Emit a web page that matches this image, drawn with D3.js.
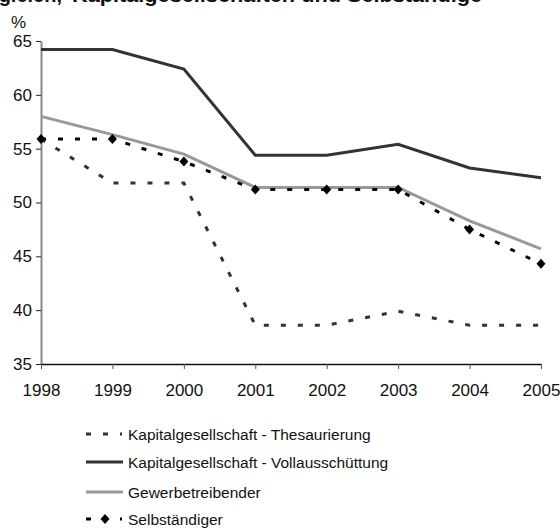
<!DOCTYPE html>
<html>
<head>
<meta charset="utf-8">
<script src="https://cdn.jsdelivr.net/npm/d3@7"></script>
<style>
  body { margin: 0; background: #fff; }
  svg { font-family: "Liberation Sans", Arial, sans-serif; }
</style>
</head>
<body>
<div id="chart"></div>
<script>
// data
const years = [1998, 1999, 2000, 2001, 2002, 2003, 2004, 2005];
const thesaurierung = [55.9, 51.8, 51.8, 38.6, 38.6, 39.9, 38.6, 38.6];
const vollausschuettung = [64.2, 64.2, 62.4, 54.4, 54.4, 55.4, 53.2, 52.3];
const gewerbe = [58.0, 56.3, 54.5, 51.4, 51.4, 51.4, 48.3, 45.7];
const selbstaendig = [55.9, 55.9, 53.8, 51.2, 51.2, 51.2, 47.5, 44.3];
const yTicks = [35, 40, 45, 50, 55, 60, 65];

const series = [
  {name: "Kapitalgesellschaft - Thesaurierung", values: thesaurierung, color: "#333", dash: "5,12", width: 3},
  {name: "Kapitalgesellschaft - Vollausschüttung", values: vollausschuettung, color: "#333", dash: null, width: 3},
  {name: "Gewerbetreibender", values: gewerbe, color: "#999", dash: null, width: 3},
  {name: "Selbständiger", values: selbstaendig, color: "#000", dash: "5,12", width: 3, marker: true}
];

const width = 560, height = 530;
const margin = {top: 41, right: 19, bottom: 166, left: 41};

const svg = d3.select("#chart").append("svg")
  .attr("width", width)
  .attr("height", height);

// title, only its lower edge shows at the top of the picture
const title = svg.append("text")
  .attr("y", 2)
  .style("font-size", "20px")
  .style("font-weight", "bold")
  .attr("fill", "#111");
title.append("tspan")
  .attr("x", 62)
  .attr("text-anchor", "end")
  .text("Vergleich,");
title.append("tspan")
  .attr("x", 72)
  .attr("text-anchor", "start")
  .attr("textLength", 410)
  .attr("lengthAdjust", "spacingAndGlyphs")
  .text("Kapitalgesellschaften und Selbständige");

const x = d3.scaleLinear()
  .domain([1998, 2005])
  .range([margin.left, width - margin.right]);

const y = d3.scaleLinear()
  .domain([35, 65])
  .range([height - margin.bottom, margin.top]);

// y axis
const yAxis = svg.append("g")
  .attr("transform", `translate(${margin.left},0)`)
  .call(d3.axisLeft(y).tickValues(yTicks).tickSize(5).tickSizeOuter(0));
yAxis.select(".domain").attr("stroke", "#888").attr("stroke-width", 2);
yAxis.selectAll(".tick line").attr("stroke", "#222");
yAxis.selectAll(".tick text")
  .attr("x", -9)
  .style("font-size", "17px")
  .attr("fill", "#111");

// x axis
const xAxis = svg.append("g")
  .attr("transform", `translate(0,${height - margin.bottom})`)
  .call(d3.axisBottom(x).tickValues(years).tickFormat(d3.format("d")).tickSize(5).tickSizeOuter(0));
xAxis.select(".domain").attr("stroke", "#111").attr("stroke-width", 1.5);
xAxis.selectAll(".tick line").attr("stroke", "#555");
xAxis.selectAll(".tick text")
  .attr("y", 20)
  .style("font-size", "17px")
  .attr("fill", "#111");

svg.append("text")
  .attr("x", 11)
  .attr("y", 28)
  .style("font-size", "17px")
  .attr("fill", "#111")
  .text("%");

const line = d3.line()
  .x((d, i) => x(years[i]))
  .y(d => y(d));

const diamond = "M0,-5L4.5,0L0,5L-4.5,0Z";

series.forEach(s => {
  svg.append("path")
    .datum(s.values)
    .attr("fill", "none")
    .attr("stroke", s.color)
    .attr("stroke-width", s.width)
    .attr("stroke-dasharray", s.dash)
    .attr("d", line);
  if (s.marker) {
    svg.selectAll(".marker")
      .data(s.values)
      .enter()
      .append("path")
      .attr("d", diamond)
      .attr("fill", "#000")
      .attr("transform", (d, i) => `translate(${x(years[i])},${y(d)})`);
  }
});

// legend
const legendY = [434, 462, 492, 519];
series.forEach((s, i) => {
  const g = svg.append("g").attr("transform", `translate(86,${legendY[i]})`);
  g.append("line")
    .attr("x1", 0).attr("x2", s.dash ? 36 : 37)
    .attr("y1", 0).attr("y2", 0)
    .attr("stroke", s.color)
    .attr("stroke-width", s.width)
    .attr("stroke-dasharray", s.dash);
  if (s.marker) {
    g.append("path").attr("d", diamond).attr("fill", "#000").attr("transform", "translate(19,0)");
  }
  g.append("text")
    .attr("x", 42)
    .attr("y", 6)
    .style("font-size", "15.5px")
    .attr("fill", "#111")
    .text(s.name);
});
</script>
</body>
</html>
